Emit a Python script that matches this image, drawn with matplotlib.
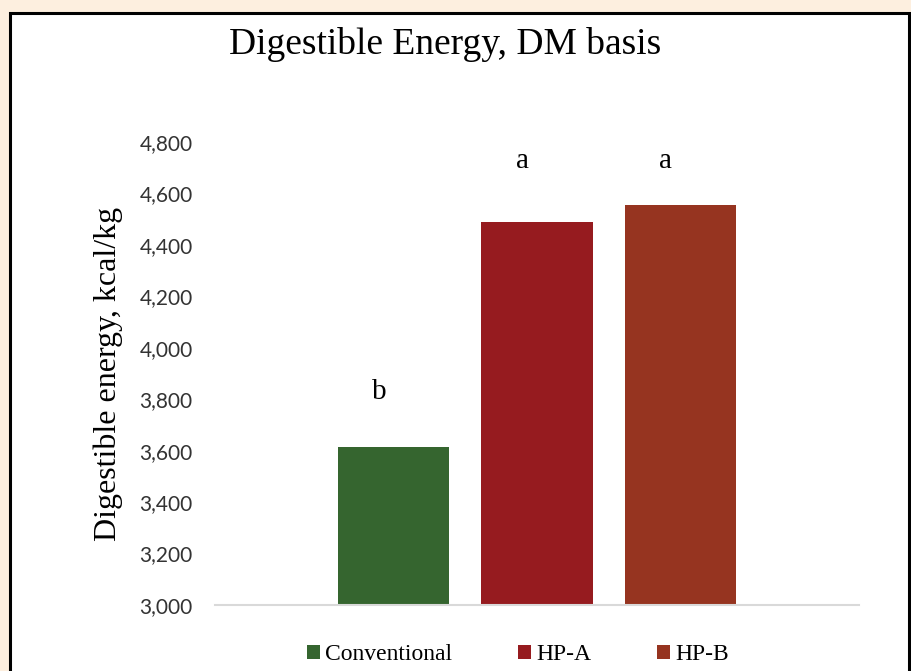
import matplotlib.pyplot as plt
from matplotlib.patches import Rectangle
from matplotlib.ticker import FuncFormatter

groups = ['Conventional', 'HP-A', 'HP-B']
values = [3614, 4489, 4555]
letters = ['b', 'a', 'a']
letter_y = [3800, 4700, 4700]
colors = ['#35652F', '#961B1F', '#963420']
yticks = [3000, 3200, 3400, 3600, 3800, 4000, 4200, 4400, 4600, 4800]

fig = plt.figure(figsize=(9.12, 6.71), dpi=100)
fig.patch.set_facecolor('#FDEFDF')

# white panel with black frame
fig.patches.append(Rectangle((10/912, -0.05), 899/912, 1.05 - 13/671, transform=fig.transFigure,
                             facecolor='white', edgecolor='black', linewidth=2.2, zorder=-5))

ax = fig.add_axes([215/912, 66/671, 644/912, 463/671])
ax.set_zorder(2)
ax.set_facecolor('none')
x = list(range(len(groups)))
bars = ax.bar(x, values, width=0.776, color=colors, bottom=0)
for b, g in zip(bars, groups):
    b.set_label(g)

for xi, l, ly in zip(x, letters, letter_y):
    ax.text(xi - 0.1, ly, l, ha='center', va='baseline', family='Liberation Serif', fontsize=21)

ax.set_ylim(3000, 4800)
ax.set_xlim(-1.25, 3.25)
ax.set_yticks(yticks)
ax.yaxis.set_major_formatter(FuncFormatter(lambda v, p: '{:,.0f}'.format(v)))
ax.set_xticks([])
for s in ['top', 'right', 'left']:
    ax.spines[s].set_visible(False)
ax.spines['bottom'].set_color('#D9D9D9')
ax.spines['bottom'].set_linewidth(1.5)
ax.tick_params(axis='y', length=0, pad=16, labelsize=15, labelcolor='#333333')
for t in ax.get_yticklabels():
    t.set_family('Lato')

ax.set_ylabel('Digestible energy, kcal/kg', family='Liberation Serif', fontsize=23, labelpad=12)

fig.text(445/912, 1 - 45/671, 'Digestible Energy, DM basis', ha='center', va='center',
         family='Liberation Serif', fontsize=27)

fig.legend(handles=bars, labels=groups, loc='center', bbox_to_anchor=(0.568, 1 - 655/671), ncol=3,
           frameon=False, prop={'family': 'Liberation Serif', 'size': 17},
           handlelength=0.55, handleheight=0.55, handletextpad=0.2, columnspacing=2.8)

plt.savefig('out.png', dpi=100, facecolor=fig.get_facecolor())
